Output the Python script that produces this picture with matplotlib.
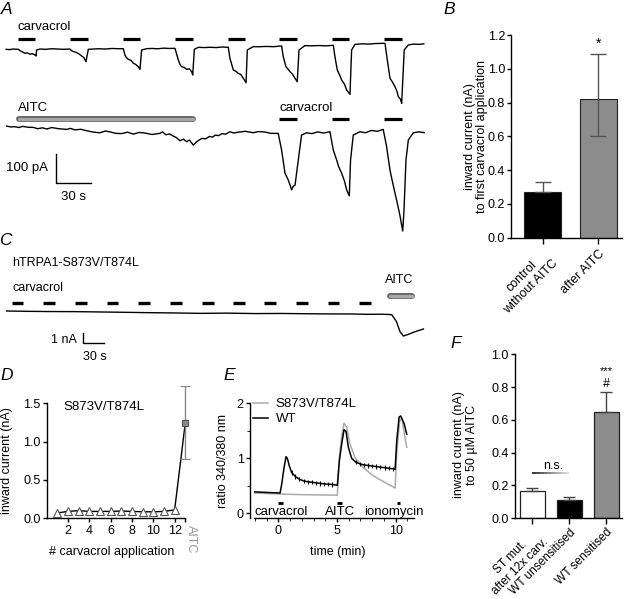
import numpy as np
import matplotlib
matplotlib.use("Agg")
import matplotlib.pyplot as plt
from matplotlib.ticker import FormatStrFormatter, MultipleLocator

plt.rcParams['font.family'] = ['Liberation Sans', 'DejaVu Sans']
plt.rcParams['font.size'] = 9
plt.rcParams['axes.linewidth'] = 1.0
plt.rcParams['xtick.major.width'] = 1.0
plt.rcParams['ytick.major.width'] = 1.0
plt.rcParams['xtick.major.size'] = 3
plt.rcParams['ytick.major.size'] = 3
plt.rcParams['xtick.minor.size'] = 2
plt.rcParams['ytick.minor.size'] = 2
plt.rcParams['xtick.major.pad'] = 2
plt.rcParams['ytick.major.pad'] = 1.5

# ---- panel A: whole-cell currents (time in s, current in pA) ----
a_top_t = [1, 4, 7, 11.4, 12.9, 15, 17.1, 19, 21.4, 23.5, 25.7, 26.6, 27.1, 30, 35, 40, 45, 50,
           55.7, 57.1, 59, 61.4, 63.5, 65.7, 67.5, 69.4, 71.4, 75.7, 80, 86, 92, 97,
           101.4, 102.8, 104, 105.7, 108, 110, 112, 114.3, 115.7, 117.1, 121.4, 126, 131, 136, 141,
           145.7, 148.6, 150, 151.4, 153.5, 155.7, 158, 160, 160.9, 162.3, 165.7, 171, 176, 181, 186,
           191.4, 192.8, 195.7, 198, 200, 202, 204.3, 206.6, 207.7, 212.8, 218, 224, 230,
           237.1, 238.5, 240.8, 243, 244.3, 246.5, 248.6, 250.5, 252, 257, 263, 269, 275,
           281.4, 282.8, 284.8, 287, 288.6, 291, 292.8, 295.7, 297.1, 300, 306, 312, 318,
           325.7, 327.7, 330, 332, 334.3, 336, 337.1, 339, 340, 342.2, 345.7, 350, 355, 359]
a_top_i = [0, -1, 1, 0, -4.6, -9, -13.8, -12, -17, -15, -19.5, -23, -2.3, 1, 0, 2, 1, 0,
           1, -4.6, -8, -11.5, -16, -23, -28, -42.5, 0, 1, 2, 1, 3, 2,
           2.3, -19.5, -28, -34.5, -38, -48, -52, -60, -69, -2.3, 2.3, 3, 2, 4, 3,
           3.4, -37, -52, -60, -62, -69, -67, -77, -88.5, 0, 6.9, 6, 7, 6, 8,
           6.9, -31, -71, -76, -83, -86, -100, -115, -2.3, 9.2, 9, 10, 9,
           11.5, -25, -60, -70, -77, -86, -100, -111.5, -2.3, 12.6, 12, 13, 12,
           13.8, -25, -71, -90, -106, -120, -140, -155, -2.3, 17, 19, 18, 20,
           20.7, -37, -100, -112, -129, -145, -163, -172, -186, -2.3, 15, 18, 17, 19]
a_bot_t = [1.4, 5, 8, 12, 15, 20, 24.3, 28, 32, 36, 40, 46, 52.9, 56, 60, 65, 70, 76, 81.4, 86,
           90, 95, 100, 105, 110, 115, 120, 126, 132.8, 135, 138, 141, 144.3, 147, 150, 153,
           155.7, 158, 161.4, 164.3, 168.6, 172, 175, 178, 180.3, 183, 186, 189, 192.8, 196, 200,
           206, 212.8, 217, 222, 228, 234.2,
           237.1, 240, 242.8, 244, 245.7, 247, 248.6, 251.4, 254.2, 258.5, 263, 268, 273, 278.5,
           281.4, 284.3, 286, 288.6, 291, 292.8, 295.1, 296.2, 298.5, 304.3, 309, 314, 319, 324.2,
           327.1, 330, 332, 334.3, 336.5, 338.6, 340.9, 342, 343.7, 345.7, 350, 355, 360]
a_bot_i = [0, -3, -2, -5, -1, -4, -4.6, -9, -6, -10, -5, -9, -11.5, -8, -13, -11, -16, -21, -23,
           -17, -20, -25, -26, -21, -27.6, -22, -24, -29, -25, -20, -30, -27, -34.5, -40, -50.6,
           -45, -54, -48, -65.5, -54, -42.5, -44, -36, -38, -31, -33, -26, -28, -19.5, -24, -21,
           -18, -23, -19, -20, -25, -25.3,
           -83, -163, -186, -200, -220, -208, -204, -117, -31, -23, -26, -20, -24, -19.5,
           -83, -117, -140, -163, -190, -220, -241, -117, -31, -19.5, -23, -15, -18, -11.5,
           -71, -152, -190, -232, -270, -310, -362, -290, -117, -48, -23, -20, -23]
a_carv_top = [11, 56, 101, 146, 191, 235, 280, 325]
a_carv_bot = [235, 280, 325]
a_carv_dur = 15
a_aitc = (12, 161)

# ---- panel B ----
b_labels = ['control\nwithout AITC', 'after AITC']
b_values = [0.27, 0.82]
b_err_lo = [0.0, 0.22]
b_err_hi = [0.06, 0.265]
b_colors = ['black', '#8c8c8c']

# ---- panel C (time in s, current in nA) ----
c_t = [0, 30, 60, 100, 135, 170, 200, 240, 280, 320, 360, 400, 425, 460, 500, 522, 545, 558,
       565, 570, 575, 582, 592, 604]
c_i = [0, -0.03, -0.05, -0.06, -0.09, -0.12, -0.15, -0.18, -0.22, -0.2, -0.24, -0.23, -0.25,
       -0.27, -0.28, -0.31, -0.3, -0.34, -1.0, -1.93, -2.34, -2.18, -1.93, -1.68]
c_carv = [7, 53, 99, 145, 191, 237, 283, 328, 373, 419, 465, 511]
c_carv_dur = 17
c_aitc = (556, 587)

# ---- panel D ----
d_x = list(range(1, 14))
d_y = [0.07, 0.09, 0.10, 0.09, 0.09, 0.09, 0.095, 0.09, 0.085, 0.085, 0.09, 0.11, 1.247]
d_err = [0.01, 0.01, 0.01, 0.01, 0.01, 0.01, 0.01, 0.01, 0.01, 0.01, 0.01, 0.01, 0.473]

# ---- panel E (time in min) ----
e_wt_t = [-2.0, -1.0, 0.15, 0.29, 0.49, 0.66, 0.77, 0.94, 1.14, 1.45, 1.8, 2.15, 2.5, 2.85, 3.2,
          3.55, 3.9, 4.25, 4.6, 5.03, 5.2, 5.4, 5.6, 5.77, 5.97, 6.25, 6.6, 6.95, 7.3, 7.65, 8.0,
          8.35, 8.7, 9.05, 9.4, 9.75, 9.95, 10.09, 10.29, 10.43, 10.72, 10.94]
e_wt_v = [0.39, 0.38, 0.37, 0.53, 0.83, 1.03, 1.0, 0.86, 0.74, 0.67, 0.62, 0.59, 0.575, 0.565,
          0.555, 0.545, 0.535, 0.53, 0.525, 0.51, 0.95, 1.26, 1.52, 1.49, 1.2, 1.0, 0.93, 0.9,
          0.88, 0.87, 0.86, 0.85, 0.84, 0.83, 0.82, 0.81, 0.80, 1.32, 1.75, 1.77, 1.63, 1.44]
e_wt_err = [0, 0, 0, 0, 0, 0, 0, 0, 0.04, 0.04, 0.04, 0.04, 0.04, 0.04, 0.04, 0.04, 0.04, 0.04,
            0.04, 0, 0, 0, 0, 0, 0, 0, 0.04, 0.04, 0.04, 0.04, 0.04, 0.04, 0.04, 0.04, 0.04,
            0.04, 0, 0, 0, 0, 0, 0]
e_st_t = [-2.0, 0.29, 1.85, 5.03, 5.2, 5.4, 5.6, 5.83, 6.11, 6.54, 7.25, 8.1, 9.1, 9.95, 10.09,
          10.33, 10.52, 10.72, 10.94]
e_st_v = [0.37, 0.35, 0.34, 0.33, 1.02, 1.40, 1.64, 1.56, 1.26, 1.01, 0.83, 0.68, 0.56, 0.46,
          1.10, 1.67, 1.74, 1.46, 1.20]
e_apps = ['carvacrol', 'AITC', 'ionomycin']
e_app_on = [0.0, 5.0, 10.1]
e_app_off = [0.4, 5.4, 10.4]
e_app_text_x = [0.25, 5.27, 9.87]

# ---- panel F ----
f_labels = ['ST mut.\nafter 12x carv.', 'WT unsensitised', 'WT sensitised']
f_values = [0.165, 0.11, 0.65]
f_err = [0.02, 0.02, 0.12]
f_colors = ['white', 'black', '#8c8c8c']

W, H = 627, 599
fig = plt.figure(figsize=(W / 100, H / 100), dpi=100)


def px_axes(left, top, right, bottom):
    return fig.add_axes([left / W, 1 - bottom / H, (right - left) / W, (bottom - top) / H])


def aitc_bar(ax, x0, x1, y):
    ax.plot([x0, x1], [y, y], color='#606060', lw=4.2, solid_capstyle='round')
    ax.plot([x0, x1], [y, y], color='#a8a8a8', lw=2.4, solid_capstyle='round')


# panel letters
for letter, (x, y) in {'A': (7, 9), 'B': (449, 9), 'C': (5, 241), 'D': (7, 375),
                       'E': (229, 375), 'F': (456, 344)}.items():
    fig.text(x / W, 1 - y / H, letter, fontsize=12.5, style='italic', ha='center', va='center')

# ---------- A ----------
ax = px_axes(5, 20, 425, 110)
ax.plot(a_top_t, a_top_i, color='black', lw=1.0)
for s in a_carv_top:
    ax.plot([s, s + a_carv_dur], [34, 34], color='black', lw=2.3, solid_capstyle='butt')
ax.text(10.3, 78, 'carvacrol', fontsize=9.5, ha='left', va='center')
ax.set_xlim(0, 360)
ax.set_ylim(-209, 101)
ax.axis('off')

ax = px_axes(5, 100, 425, 240)
ax.plot(a_bot_t, a_bot_i, color='black', lw=1.0)
for s in a_carv_bot:
    ax.plot([s, s + a_carv_dur], [26, 26], color='black', lw=2.3, solid_capstyle='butt')
aitc_bar(ax, a_aitc[0], a_aitc[1], 25)
ax.text(11.4, 64, 'AITC', fontsize=9.5, ha='left', va='center')
ax.text(235, 64, 'carvacrol', fontsize=9.5, ha='left', va='center')
ax.plot([43.7, 43.7, 73.7], [-97, -197, -197], color='black', lw=1.0)
ax.text(37, -146, '100 pA', fontsize=9.5, ha='right', va='center')
ax.text(59, -243, '30 s', fontsize=9.5, ha='center', va='center')
ax.set_xlim(0, 360)
ax.set_ylim(-393, 90)
ax.axis('off')

# ---------- B ----------
ax = px_axes(511.3, 35, 621.7, 237.7)
xb = np.arange(len(b_values))
ax.bar(xb, b_values, width=0.67, color=b_colors, edgecolor='#222222', linewidth=0.8)
ax.errorbar(xb, b_values, yerr=[b_err_lo, b_err_hi], fmt='none', ecolor='#555555',
            elinewidth=1.0, capsize=6, capthick=1.0)
ax.text(1, 1.15, '*', ha='center', va='center', fontsize=10)
ax.set_xlim(-0.56, 1.42)
ax.set_ylim(0, 1.2)
ax.set_yticks(np.arange(0, 1.21, 0.2))
ax.yaxis.set_major_formatter(FormatStrFormatter('%.1f'))
ax.set_xticks(xb)
ax.set_xticklabels(b_labels, rotation=45, ha='right', va='top', rotation_mode='anchor',
                   multialignment='center')
ax.tick_params(axis='x', length=4, pad=3)
ax.set_ylabel('inward current (nA)\nto first carvacrol application', linespacing=1.05)
ax.yaxis.set_label_coords((476 - 511.3) / 110.4, 0.5)
ax.yaxis.label.set_va('center')
ax.spines[['top', 'right']].set_visible(False)

# ---------- C ----------
ax = px_axes(0, 250, 430, 375)
ax.plot(c_t, c_i, color='black', lw=1.0)
for s in c_carv:
    ax.plot([s, s + c_carv_dur], [0.78, 0.78], color='black', lw=2.4, solid_capstyle='butt')
aitc_bar(ax, c_aitc[0], c_aitc[1], 1.43)
ax.text(7.7, 4.49, 'hTRPA1-S873V/T874L', ha='left', va='center')
ax.text(7.7, 2.15, 'carvacrol', ha='left', va='center')
ax.text(568.6, 2.9, 'AITC', ha='center', va='center')
ax.plot([111, 111, 141], [-2.03, -3.03, -3.03], color='black', lw=1.0)
ax.text(101, -2.75, '1 nA', ha='right', va='center')
ax.text(128, -4.3, '30 s', ha='center', va='center')
ax.set_xlim(-9.7, 613.5)
ax.set_ylim(-5.98, 5.7)
ax.axis('off')

# ---------- D ----------
ax = px_axes(46.7, 403.3, 185.3, 518.3)
ax.plot(d_x, d_y, color='black', lw=1.0, zorder=2)
ax.errorbar(d_x[:-1], d_y[:-1], yerr=d_err[:-1], fmt='^', ms=5.5, mfc='white', mec='#555555',
            mew=0.8, ecolor='#555555', elinewidth=0.8, capsize=0, zorder=3, clip_on=False)
ax.errorbar(d_x[-1:], d_y[-1:], yerr=d_err[-1:], fmt='s', ms=4.2, mfc='#8c8c8c', mec='#555555',
            mew=0.8, ecolor='#888888', elinewidth=1.0, capsize=3.5, capthick=1.0, zorder=3,
            clip_on=False)
ax.text(0.12, 0.97, 'S873V/T874L', transform=ax.transAxes, ha='left', va='center', fontsize=9.5)
ax.set_xlim(0, 13)
ax.set_ylim(0, 1.5)
ax.set_yticks([0, 0.5, 1.0, 1.5])
ax.yaxis.set_major_formatter(FormatStrFormatter('%.1f'))
ax.set_xticks([2, 4, 6, 8, 10, 12, 13])
ax.set_xticklabels(['2', '4', '6', '8', '10', '12', 'AITC'])
lab = ax.get_xticklabels()[-1]
lab.set_rotation(-90)
lab.set_color('#999999')
lab.set_va('top')
lab.set_ha('left')
ax.set_xlabel('# carvacrol application')
ax.xaxis.set_label_coords(0.47, -0.29)
ax.xaxis.label.set_va('center')
ax.set_ylabel('inward current (nA)')
ax.yaxis.set_label_coords((7 - 46.7) / 138.6, 0.5)
ax.yaxis.label.set_va('center')
ax.spines[['top', 'right']].set_visible(False)

# ---------- E ----------
ax = px_axes(250, 403.3, 418, 518.3)
st_line, = ax.plot(e_st_t, e_st_v, color='#aaaaaa', lw=1.1, label='S873V/T874L')
wt_line, = ax.plot(e_wt_t, e_wt_v, color='black', lw=1.1, label='WT')
ax.errorbar(e_wt_t, e_wt_v, yerr=e_wt_err, fmt='none', ecolor='black', elinewidth=0.8)
for name, on, off, tx in zip(e_apps, e_app_on, e_app_off, e_app_text_x):
    ax.plot([on, off], [0.19, 0.19], color='black', lw=2.0, solid_capstyle='butt')
    ax.text(tx, 0.02, name, ha='center', va='center', fontsize=9.5)
ax.legend(handles=[st_line, wt_line], loc='upper left', bbox_to_anchor=(0.02, 1.045),
          frameon=False, handlelength=1.1, handletextpad=0.6, labelspacing=0.2,
          borderpad=0, borderaxespad=0, fontsize=9.5)
ax.set_xlim(-2.41, 11.9)
ax.set_ylim(-0.09, 2.0)
ax.set_yticks([0, 1, 2])
ax.yaxis.set_minor_locator(MultipleLocator(0.5))
ax.set_xticks([0, 5, 10])
ax.xaxis.set_minor_locator(MultipleLocator(1))
ax.spines['bottom'].set_bounds(-2.05, 11.6)
ax.spines[['top', 'right']].set_visible(False)
ax.set_xlabel('time (min)')
ax.xaxis.set_label_coords(0.52, -0.29)
ax.xaxis.label.set_va('center')
ax.set_ylabel('ratio 340/380 nm')
ax.yaxis.set_label_coords((223.3 - 250) / 168, 0.5)
ax.yaxis.label.set_va('center')

# ---------- F ----------
ax = px_axes(515, 354.3, 622, 518.3)
xf = np.arange(len(f_values))
ax.bar(xf, f_values, width=0.69, color=f_colors, edgecolor='#222222', linewidth=0.9)
ax.errorbar(xf, f_values, yerr=[[0] * len(f_err), f_err], fmt='none', ecolor='#444444',
            elinewidth=1.0, capsize=4, capthick=1.0)
seg = np.linspace(0, 1, 11)
for k in range(10):
    g = 0.1 + 0.75 * k / 9
    ax.plot(seg[k:k + 2], [0.274, 0.274], color=(g, g, g), lw=1.2, solid_capstyle='butt')
ax.text(0.55, 0.32, 'n.s.', ha='center', va='center', fontsize=9)
ax.text(2, 0.90, '***', ha='center', va='center', fontsize=8)
ax.text(2, 0.82, '#', ha='center', va='center', fontsize=9)
ax.set_xlim(-0.47, 2.42)
ax.set_ylim(0, 1.0)
ax.set_yticks(np.arange(0, 1.01, 0.2))
ax.yaxis.set_major_formatter(FormatStrFormatter('%.1f'))
ax.set_xticks(xf)
ax.set_xticklabels(f_labels, rotation=45, ha='right', va='top', rotation_mode='anchor',
                   multialignment='center', fontsize=8.6)
ax.tick_params(axis='x', length=4, pad=2)
ax.set_ylabel('inward current (nA)\nto 50 µM AITC', linespacing=1.05)
ax.yaxis.set_label_coords((465.5 - 515) / 107, 0.45)
ax.yaxis.label.set_va('center')
ax.spines[['top', 'right']].set_visible(False)

fig.savefig('out.png', dpi=100)
